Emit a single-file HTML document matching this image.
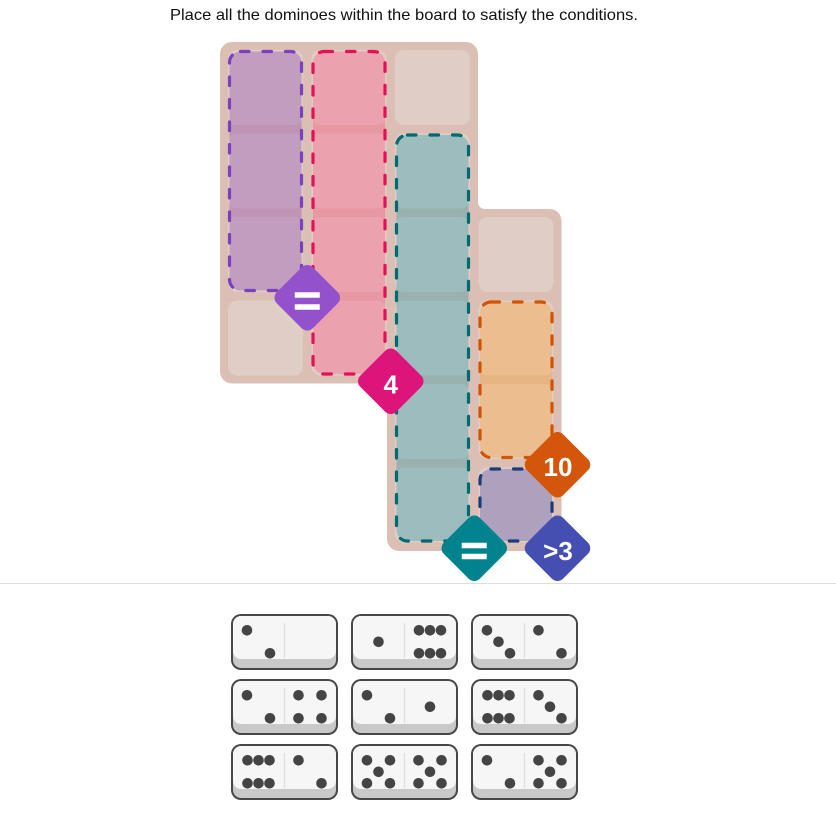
<!DOCTYPE html>
<html>
<head>
<meta charset="utf-8">
<style>
  html, body { margin: 0; padding: 0; background: #fff; }
  svg { display: block; }
</style>
</head>
<body>
<svg width="836" height="835" viewBox="0 0 836 835" xmlns="http://www.w3.org/2000/svg">
  <rect width="836" height="835" fill="#ffffff"/>

  <text x="170" y="20" font-family="Liberation Sans, Arial, sans-serif" font-size="16" fill="#111" textLength="468" lengthAdjust="spacingAndGlyphs">Place all the dominoes within the board to satisfy the conditions.</text>

  <!-- Board -->
  <path d="M232,42 H466 A12,12 0 0 1 478,54 V202 A7,7 0 0 0 485,209 H549.5 A12,12 0 0 1 561.5,221 V539 A12,12 0 0 1 549.5,551 H399 A12,12 0 0 1 387,539 V390.5 A7,7 0 0 0 380,383.5 H232 A12,12 0 0 1 220,371.5 V54 A12,12 0 0 1 232,42 Z" fill="#dbbfb4"/>

  <!-- Cells -->
  <g fill="#e0cdc6">
    <rect x="228" y="50" width="75" height="75" rx="9"/>
    <rect x="228" y="133.5" width="75" height="75" rx="9"/>
    <rect x="228" y="217" width="75" height="75" rx="9"/>
    <rect x="228" y="300.5" width="75" height="75" rx="9"/>

    <rect x="311.5" y="50" width="75" height="75" rx="9"/>
    <rect x="311.5" y="133.5" width="75" height="75" rx="9"/>
    <rect x="311.5" y="217" width="75" height="75" rx="9"/>
    <rect x="311.5" y="300.5" width="75" height="75" rx="9"/>

    <rect x="395" y="50" width="75" height="75" rx="9"/>
    <rect x="395" y="133.5" width="75" height="75" rx="9"/>
    <rect x="395" y="217" width="75" height="75" rx="9"/>
    <rect x="395" y="300.5" width="75" height="75" rx="9"/>
    <rect x="395" y="384" width="75" height="75" rx="9"/>
    <rect x="395" y="467.5" width="75" height="75" rx="9"/>

    <rect x="478.5" y="217" width="75" height="75" rx="9"/>
    <rect x="478.5" y="300.5" width="75" height="75" rx="9"/>
    <rect x="478.5" y="384" width="75" height="75" rx="9"/>
    <rect x="478.5" y="467.5" width="75" height="75" rx="9"/>
  </g>

  <!-- Regions -->
  <g stroke-width="3.2" stroke-dasharray="8.5 14" stroke-linecap="round">
    <rect x="229.5" y="51.5" width="72" height="239" rx="11" fill="rgba(140,70,180,0.35)" stroke="#7b3fbf"/>
    <rect x="313" y="51.5" width="72" height="322.5" rx="11" fill="rgba(255,80,130,0.35)" stroke="#e6105a"/>
    <rect x="396.5" y="135" width="72" height="406" rx="11" fill="rgba(0,150,170,0.3)" stroke="#006a72"/>
    <rect x="480" y="302" width="72" height="155.5" rx="11" fill="rgba(255,160,40,0.35)" stroke="#d35400"/>
    <rect x="480" y="469" width="72" height="72" rx="11" fill="rgba(60,60,170,0.3)" stroke="#1c3d7a"/>
  </g>

  <!-- Badges -->
  <g transform="translate(307.25,297.75) rotate(45)"><rect x="-25.5" y="-25.5" width="51" height="51" rx="8" fill="#9351cc"/></g>
  <rect x="294.75" y="292.25" width="25" height="5.5" fill="#fff"/>
  <rect x="294.75" y="304.25" width="25" height="5.5" fill="#fff"/>

  <g transform="translate(390.75,381.25) rotate(45)"><rect x="-25.5" y="-25.5" width="51" height="51" rx="8" fill="#dd157b"/></g>
  <text x="390.75" y="393.25" text-anchor="middle" font-family="Liberation Sans, Arial, sans-serif" font-weight="bold" font-size="26" fill="#fff">4</text>

  <g transform="translate(557.5,464.75) rotate(45)"><rect x="-25.5" y="-25.5" width="51" height="51" rx="8" fill="#d4560b"/></g>
  <text x="558" y="475.75" text-anchor="middle" font-family="Liberation Sans, Arial, sans-serif" font-weight="bold" font-size="26" fill="#fff">10</text>

  <g transform="translate(474.25,548.25) rotate(45)"><rect x="-25.5" y="-25.5" width="51" height="51" rx="8" fill="#00838f"/></g>
  <rect x="461.75" y="542.75" width="25" height="5.5" fill="#fff"/>
  <rect x="461.75" y="553.75" width="25" height="5.5" fill="#fff"/>

  <g transform="translate(557.5,548.25) rotate(45)"><rect x="-25.5" y="-25.5" width="51" height="51" rx="8" fill="#454eb1"/></g>
  <text x="558" y="560" text-anchor="middle" font-family="Liberation Sans, Arial, sans-serif" font-weight="bold" font-size="26" fill="#fff">&gt;3</text>

  <!-- Divider -->
  <line x1="0" y1="583.5" x2="836" y2="583.5" stroke="#dddddd" stroke-width="1"/>

  <!-- Dominoes -->
  <defs>
    <g id="dom">
      <rect x="0" y="0" width="107" height="56" rx="10" fill="#474747"/>
      <rect x="2" y="2" width="103" height="52" rx="8" fill="#c9c9c9"/>
      <rect x="2" y="2" width="103" height="43" rx="8" fill="#f6f6f6"/>
      <line x1="53.5" y1="9" x2="53.5" y2="44" stroke="#dddddd" stroke-width="1.2"/>
    </g>
  </defs>
  <use href="#dom" x="231" y="614"/>
  <use href="#dom" x="351" y="614"/>
  <use href="#dom" x="471" y="614"/>
  <use href="#dom" x="231" y="679"/>
  <use href="#dom" x="351" y="679"/>
  <use href="#dom" x="471" y="679"/>
  <use href="#dom" x="231" y="744"/>
  <use href="#dom" x="351" y="744"/>
  <use href="#dom" x="471" y="744"/>

  <g fill="#444">
    <!-- D1 [2|0] -->
    <circle cx="247" cy="630.3" r="5.3"/><circle cx="270" cy="653.3" r="5.3"/>
    <!-- D2 [1|6] -->
    <circle cx="378.5" cy="641.8" r="5.3"/>
    <circle cx="419" cy="630.3" r="5.3"/><circle cx="430" cy="630.3" r="5.3"/><circle cx="441" cy="630.3" r="5.3"/>
    <circle cx="419" cy="653.3" r="5.3"/><circle cx="430" cy="653.3" r="5.3"/><circle cx="441" cy="653.3" r="5.3"/>
    <!-- D3 [3|2] -->
    <circle cx="487" cy="630.3" r="5.3"/><circle cx="498.5" cy="641.8" r="5.3"/><circle cx="510" cy="653.3" r="5.3"/>
    <circle cx="538.5" cy="630.3" r="5.3"/><circle cx="561.5" cy="653.3" r="5.3"/>

    <!-- D4 [2|4] -->
    <circle cx="247" cy="695.3" r="5.3"/><circle cx="270" cy="718.3" r="5.3"/>
    <circle cx="298.5" cy="695.3" r="5.3"/><circle cx="321.5" cy="695.3" r="5.3"/>
    <circle cx="298.5" cy="718.3" r="5.3"/><circle cx="321.5" cy="718.3" r="5.3"/>
    <!-- D5 [2|1] -->
    <circle cx="367" cy="695.3" r="5.3"/><circle cx="390" cy="718.3" r="5.3"/>
    <circle cx="430" cy="706.8" r="5.3"/>
    <!-- D6 [6|3] -->
    <circle cx="487.5" cy="695.3" r="5.3"/><circle cx="498.5" cy="695.3" r="5.3"/><circle cx="509.5" cy="695.3" r="5.3"/>
    <circle cx="487.5" cy="718.3" r="5.3"/><circle cx="498.5" cy="718.3" r="5.3"/><circle cx="509.5" cy="718.3" r="5.3"/>
    <circle cx="538.5" cy="695.3" r="5.3"/><circle cx="550" cy="706.8" r="5.3"/><circle cx="561.5" cy="718.3" r="5.3"/>

    <!-- D7 [6|2] -->
    <circle cx="247.5" cy="760.3" r="5.3"/><circle cx="258.5" cy="760.3" r="5.3"/><circle cx="269.5" cy="760.3" r="5.3"/>
    <circle cx="247.5" cy="783.3" r="5.3"/><circle cx="258.5" cy="783.3" r="5.3"/><circle cx="269.5" cy="783.3" r="5.3"/>
    <circle cx="298.5" cy="760.3" r="5.3"/><circle cx="321.5" cy="783.3" r="5.3"/>
    <!-- D8 [5|5] -->
    <circle cx="367" cy="760.3" r="5.3"/><circle cx="390" cy="760.3" r="5.3"/><circle cx="378.5" cy="771.8" r="5.3"/>
    <circle cx="367" cy="783.3" r="5.3"/><circle cx="390" cy="783.3" r="5.3"/>
    <circle cx="418.5" cy="760.3" r="5.3"/><circle cx="441.5" cy="760.3" r="5.3"/><circle cx="430" cy="771.8" r="5.3"/>
    <circle cx="418.5" cy="783.3" r="5.3"/><circle cx="441.5" cy="783.3" r="5.3"/>
    <!-- D9 [2|5] -->
    <circle cx="487" cy="760.3" r="5.3"/><circle cx="510" cy="783.3" r="5.3"/>
    <circle cx="538.5" cy="760.3" r="5.3"/><circle cx="561.5" cy="760.3" r="5.3"/><circle cx="550" cy="771.8" r="5.3"/>
    <circle cx="538.5" cy="783.3" r="5.3"/><circle cx="561.5" cy="783.3" r="5.3"/>
  </g>
</svg>
</body>
</html>
